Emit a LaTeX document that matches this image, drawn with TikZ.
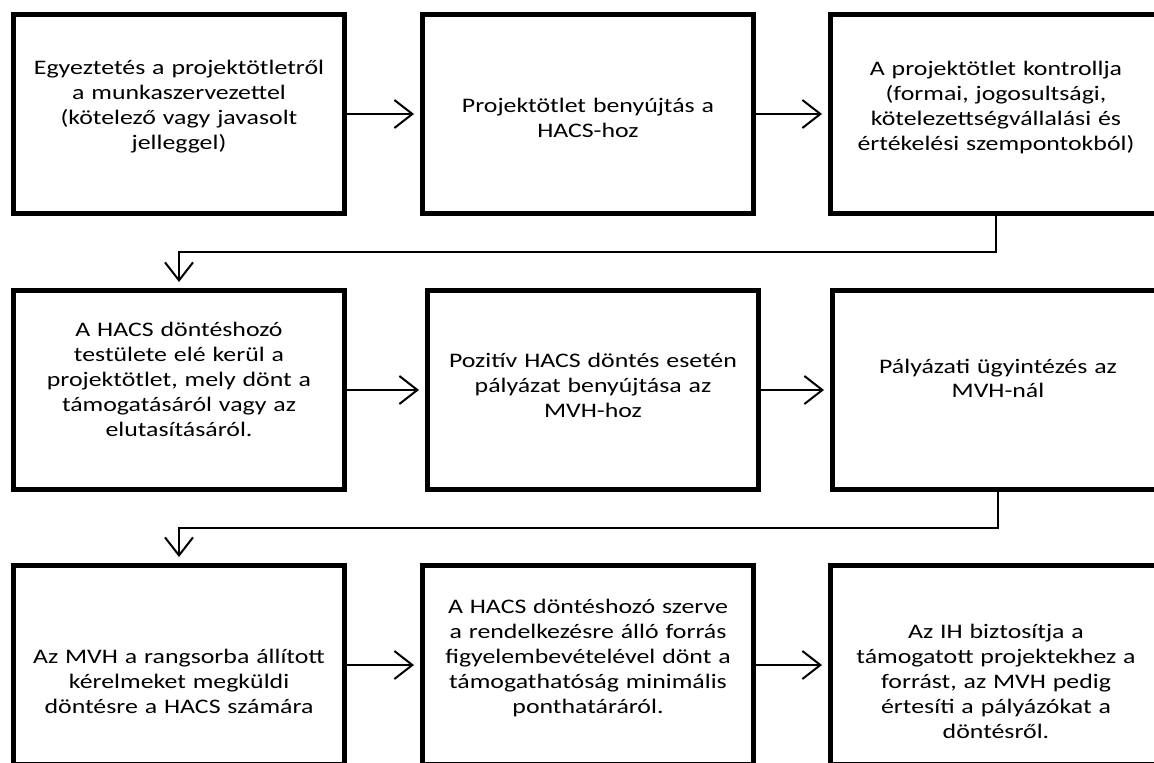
\documentclass[tikz,border=0pt]{standalone}
\usepackage{fontspec}
\setmainfont{Carlito}[FakeStretch=1.25]
\usetikzlibrary{arrows.meta,calc}
\begin{document}
\begin{tikzpicture}[x=0.75pt,y=-0.75pt,
  box/.style={draw=black, line width=3.75pt, minimum width=248.25pt, minimum height=149.25pt, inner sep=0pt, miter limit=10},
  txt/.style={inner sep=0pt, text width=250pt, align=center, anchor=base, font=\fontsize{15.5pt}{18.75pt}\selectfont},
  arr/.style={line width=1.5pt, -{Straight Barb[length=13.5pt,width=21pt]}, shorten >=4.5pt}]
\useasboundingbox (0,0) rectangle (1154,763);
\fill[white] (0,0) rectangle (1154,763);
\clip (0,0) rectangle (1154,763);
% boxes
\node[box] (b11) at (179,114) {};
\node[box] (b12) at (588,114) {};
\node[box] (b13) at (996,114) {};
\node[box] (b21) at (179,390) {};
\node[box] (b22) at (593,390) {};
\node[box] (b23) at (998,390) {};
\node[box] (b31) at (179,665) {};
\node[box] (b32) at (588,665) {};
\node[box] (b33) at (996,665) {};
% texts
\node[txt] (t11) at (179,75) {Egyeztetés a projektötletről\\a munkaszervezettel\\(kötelező vagy javasolt\\jelleggel)};
\node[txt] (t12) at (588,113) {Projektötlet benyújtás a\\HACS-hoz};
\node[txt] (t13) at (996,76) {A projektötlet kontrollja\\(formai, jogosultsági,\\kötelezettségvállalási és\\értékelési szempontokból)};
\node[txt] (t21) at (179,336) {A HACS döntéshozó\\testülete elé kerül a\\projektötlet, mely dönt a\\támogatásáról vagy az\\elutasításáról.};
\node[txt] (t22) at (593,367) {Pozitív HACS döntés esetén\\pályázat benyújtása az\\MVH-hoz};
\node[txt] (t23) at (998,373) {Pályázati ügyintézés az\\MVH-nál};
\node[txt] (t31) at (179,663) {Az MVH a rangsorba állított\\kérelmeket megküldi\\döntésre a HACS számára};
\node[txt] (t32) at (588,613) {A HACS döntéshozó szerve\\a rendelkezésre álló forrás\\figyelembevételével dönt a\\támogathatóság minimális\\ponthatáráról.};
\node[txt] (t33) at (996,638) {Az IH biztosítja a\\támogatott projektekhez a\\forrást, az MVH pedig\\értesíti a pályázókat a\\döntésről.};
% connectors
\draw[arr] (b11.east) -- (b12.west);
\draw[arr] (b12.east) -- (b13.west);
\draw[arr] (b21.east) -- (b22.west);
\draw[arr] (b22.east) -- (b23.west);
\draw[arr] (b31.east) -- (b32.west);
\draw[arr] (b32.east) -- (b33.west);
\coordinate (m1) at ($(b13.south)!0.5!(b21.north)$);
\coordinate (m2) at ($(b23.south)!0.5!(b31.north)$);
\draw[arr] (b13.south) |- (m1) -| (b21.north);
\draw[arr] (b23.south) |- (m2) -| (b31.north);
\end{tikzpicture}
\end{document}
